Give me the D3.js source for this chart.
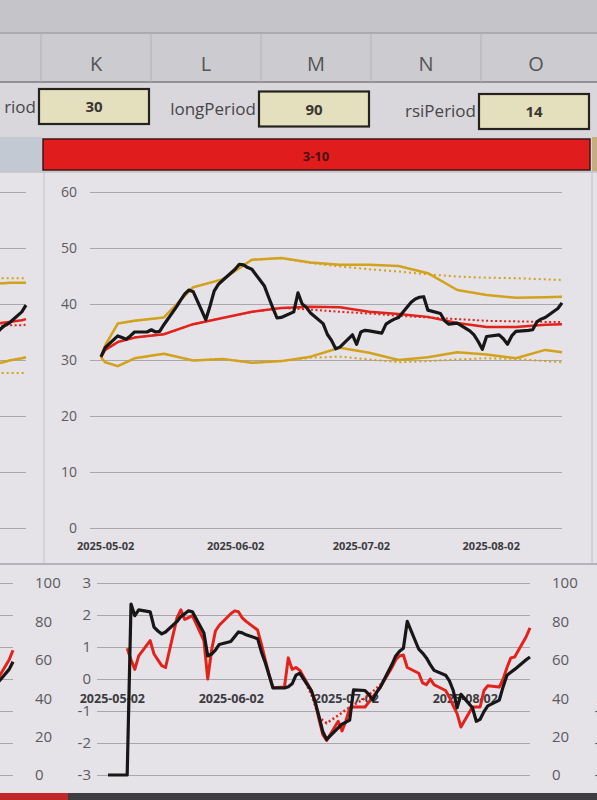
<!DOCTYPE html>
<html>
<head>
<meta charset="utf-8">
<script src="https://cdn.jsdelivr.net/npm/d3@7/dist/d3.min.js"></script>
<style>
  body { margin: 0; background: #d9d7dc; }
  svg { display: block; font-family: "Open Sans", "Liberation Sans", sans-serif; }
</style>
</head>
<body>
<svg id="sheet" width="597" height="800"></svg>
<script>
// sheet header / inputs
const columns = ["K", "L", "M", "N", "O"];
const paramNames = ["riod", "longPeriod", "rsiPeriod"];
const paramValues = [30, 90, 14];
const paramCols = ["K", "M", "O"];
const rangeLabel = "3-10";

// trading days shown in both charts
const dates = [
  "2025-05-01","2025-05-02","2025-05-05","2025-05-06","2025-05-07","2025-05-08","2025-05-09",
  "2025-05-12","2025-05-13","2025-05-14","2025-05-15","2025-05-16",
  "2025-05-19","2025-05-20","2025-05-21","2025-05-22","2025-05-23",
  "2025-05-26","2025-05-27","2025-05-28","2025-05-29","2025-05-30",
  "2025-06-02","2025-06-03","2025-06-04","2025-06-05","2025-06-06",
  "2025-06-09","2025-06-10","2025-06-11","2025-06-12","2025-06-13",
  "2025-06-16","2025-06-17","2025-06-18","2025-06-19","2025-06-20",
  "2025-06-23","2025-06-24","2025-06-25","2025-06-26","2025-06-27",
  "2025-06-30","2025-07-01","2025-07-02","2025-07-03","2025-07-04",
  "2025-07-07","2025-07-08","2025-07-09","2025-07-10","2025-07-11",
  "2025-07-14","2025-07-15","2025-07-16","2025-07-17","2025-07-18",
  "2025-07-21","2025-07-22","2025-07-23","2025-07-24","2025-07-25",
  "2025-07-28","2025-07-29","2025-07-30","2025-07-31","2025-08-01",
  "2025-08-04","2025-08-05","2025-08-06","2025-08-07","2025-08-08",
  "2025-08-11","2025-08-12","2025-08-13","2025-08-14","2025-08-15",
  "2025-08-18","2025-08-19"
];

// top chart: close price
const price = [
  30.6, 32.2, 34.3, 34.0, 33.7, 34.3, 35.0,
  35.0, 35.4, 35.0, 35.1, 36.3,
  39.5, 40.7, 41.8, 42.5, 42.2,
  37.2, 39.6, 42.3, 43.5, 44.2,
  46.2, 47.1, 47.0, 46.5, 46.2,
  43.2, 41.2, 39.3, 37.5, 37.6,
  38.6, 42.0, 40.0, 39.4, 38.4,
  36.5, 34.6, 33.5, 32.0, 32.3,
  34.5, 32.8, 35.0, 35.3, 35.2,
  34.8, 36.4, 36.9, 37.3, 37.6,
  40.3, 40.9, 41.2, 41.3, 38.9,
  38.3, 37.0, 36.4, 36.5, 36.6,
  35.2, 34.5, 33.3, 31.9, 34.2,
  34.5, 33.8, 32.8, 34.3, 35.1,
  35.3, 35.4, 36.8, 37.3, 37.6,
  39.2, 40.2
];

// top chart: averages and bands (read weekly)
const bandDates = [
  "2025-05-01","2025-05-02","2025-05-05","2025-05-09","2025-05-16","2025-05-23","2025-05-30",
  "2025-06-06","2025-06-13","2025-06-20","2025-06-27","2025-07-04","2025-07-11","2025-07-18",
  "2025-07-25","2025-08-01","2025-08-08","2025-08-15","2025-08-19"
];
const maShort    = [30.5, 31.8, 33.2, 34.0, 34.6, 36.4, 37.5, 38.6, 39.3, 39.5, 39.4, 38.6, 38.2, 37.7, 36.6, 35.9, 35.9, 36.3, 36.4];
const maLong     = [30.5, 31.8, 33.2, 34.0, 34.6, 36.4, 37.5, 38.6, 39.3, 39.0, 38.6, 38.3, 37.9, 37.6, 37.3, 37.0, 36.9, 36.8, 36.8];
const upperShort = [30.5, 32.6, 36.5, 37.0, 37.6, 43.0, 44.4, 47.9, 48.2, 47.4, 47.0, 47.0, 46.8, 45.5, 42.5, 41.6, 41.1, 41.2, 41.3];
const upperLong  = [30.5, 32.6, 36.5, 37.0, 37.6, 43.0, 44.4, 47.9, 48.2, 47.3, 46.7, 46.2, 45.8, 45.3, 44.9, 44.7, 44.6, 44.4, 44.3];
const lowerShort = [30.5, 29.6, 28.9, 30.3, 31.1, 29.9, 30.2, 29.5, 29.8, 30.6, 32.2, 31.3, 30.0, 30.5, 31.4, 31.0, 30.3, 31.8, 31.4];
const lowerLong  = [30.5, 29.6, 28.9, 30.3, 31.1, 29.9, 30.2, 29.5, 29.8, 30.4, 30.6, 30.1, 29.6, 29.8, 30.1, 30.3, 30.2, 29.8, 29.6];

// bottom chart: RSI (red) and oscillator (black), right axis 0-100
const rsi = [
  null, null, null, 66, 60, 55, 62,
  70, 63, 60, 57, 56,
  82, 86, 81, 82, 83,
  70, 50, 65, 75, 78,
  84, 85.5, 85, 81.8, 80,
  75.5, 68, 60, 52, 45.5,
  45.8, 61, 55, 56, 54.5,
  44, 38, 29, 21, 18,
  28, 23, 28, 35, 35.4,
  35.4, 38, 40.6, 43, 45.8,
  56, 60, 62, 62.5, 56,
  53, 48, 47, 50, 47,
  44, 40.5, 36, 32, 25,
  35.4, 35.4, 35.4, 44, 46.5,
  45.8, 50, 56, 61, 61.5,
  72, 76.6
];
const osc = [
  0, 0, 0, 0, 89, 83, 86,
  85, 77, 75, 73.5, 74.5,
  80, 82.5, 84, 85.5, 85,
  74, 62, 63, 65, 68,
  69.5, 72, 74.5, 74, 73,
  71, 64, 58.5, 52, 45.3,
  45.3, 46, 47.5, 52, 53,
  44, 38, 30.5, 22.5, 18.5,
  24.5, 26.5, 27.5, 28.6, 44.3,
  44, 42, 39, 43, 45.8,
  57.5, 62, 64.5, 66, 80,
  65.5, 63.5, 61, 57.5, 54.5,
  52, 49, 44, 35, 42,
  35, 28, 29, 33, 36,
  39, 46, 52, 53.5, 55,
  60, 61.5
];
const rsiLongDates = ["2025-06-20","2025-06-23","2025-06-25","2025-06-27","2025-06-30","2025-07-02","2025-07-07","2025-07-11","2025-07-14"];
const rsiLong = [54.5, 42, 30, 27, 31, 34, 40, 47, 56];

// axis ticks
const monthTicks = ["2025-05-02", "2025-06-02", "2025-07-02", "2025-08-02"];
const priceTicks = [0, 10, 20, 30, 40, 50, 60];
const oscTicks = [-3, -2, -1, 0, 1, 2, 3];
const rsiTicks = [0, 20, 40, 60, 80, 100];

// tail ends of the neighbouring charts, cut by the window
const nbDates = ["2025-08-12","2025-08-13","2025-08-14","2025-08-15","2025-08-18","2025-08-19"];
const nbPrice      = [34.8, 35.6, 36.2, 36.6, 38.6, 39.8];
const nbMaShort    = [36.5, 36.6, 36.7, 36.8, 37.1, 37.3];
const nbMaLong     = [36.1, 36.1, 36.2, 36.2, 36.2, 36.3];
const nbUpperShort = [43.6, 43.7, 43.7, 43.8, 43.8, 43.8];
const nbUpperLong  = [44.6, 44.6, 44.6, 44.6, 44.6, 44.6];
const nbLowerShort = [29.3, 29.5, 29.7, 29.9, 30.3, 30.5];
const nbLowerLong  = [27.7, 27.7, 27.7, 27.7, 27.7, 27.7];
const nbRsi        = [42, 45, 48, 50, 60, 65];
const nbOsc        = [41, 44, 46, 48, 55, 59];

const RED = "#e2231c", BLACK = "#171717", GOLD = "#d3a21c";

const svg = d3.select("svg#sheet");
const W = +svg.attr("width"), H = +svg.attr("height");
const parse = d3.timeParse("%Y-%m-%d");
const fmt = d3.timeFormat("%Y-%m-%d");
const pts = (ds, vs) => d3.zip(ds.map(parse), vs);
const span = [parse(dates[0]), parse(dates[dates.length - 1])];

// ---- sheet chrome ----
svg.append("rect").attr("width", W).attr("height", H).attr("fill", "#d9d7dc");
svg.append("rect").attr("width", W).attr("height", 33).attr("fill", "#c5c4c8");
svg.append("rect").attr("y", 33).attr("width", W).attr("height", 49).attr("fill", "#cccbcf");
svg.append("line").attr("x1", 0).attr("x2", W).attr("y1", 33).attr("y2", 33).attr("stroke", "#8f8e93");
svg.append("line").attr("x1", 0).attr("x2", W).attr("y1", 82).attr("y2", 82).attr("stroke", "#7d7c81").attr("stroke-width", 1.5);

const colX = d3.scaleBand().domain(columns).range([41, 591]);
svg.append("g").selectAll("line").data(columns).join("line")
    .attr("x1", d => colX(d)).attr("x2", d => colX(d))
    .attr("y1", 33).attr("y2", 82)
    .attr("stroke", "#b3b2b7");
svg.append("g").selectAll("text").data(columns).join("text")
    .attr("x", d => colX(d) + colX.bandwidth() / 2)
    .attr("y", 71)
    .attr("text-anchor", "middle")
    .attr("font-size", 20)
    .attr("fill", "#555")
    .text(d => d);

// parameter row
const params = svg.append("g");
params.selectAll("rect").data(paramCols).join("rect")
    .attr("x", d => colX(d) - 2)
    .attr("y", (d, i) => 89 + i * 2.5)
    .attr("width", colX.bandwidth())
    .attr("height", 35)
    .attr("fill", "#e4dfbd")
    .attr("stroke", "#262220")
    .attr("stroke-width", 2.2);
params.selectAll("text.val").data(paramValues).join("text")
    .attr("class", "val")
    .attr("x", (d, i) => colX(paramCols[i]) - 2 + colX.bandwidth() / 2)
    .attr("y", (d, i) => 112 + i * 2.5)
    .attr("text-anchor", "middle")
    .attr("font-size", 15)
    .attr("font-weight", "bold")
    .attr("fill", "#3a3632")
    .text(d => d);
params.selectAll("text.lbl").data(paramNames).join("text")
    .attr("class", "lbl")
    .attr("x", (d, i) => colX(paramCols[i]) - 5)
    .attr("y", (d, i) => 113 + i * 2)
    .attr("text-anchor", "end")
    .attr("font-size", 17)
    .attr("fill", "#474649")
    .text(d => d);

// status row
svg.append("rect").attr("x", 0).attr("y", 137).attr("width", 42).attr("height", 34).attr("fill", "#c3c9d2");
svg.append("rect").attr("x", 43).attr("y", 139).attr("width", 547).attr("height", 31)
    .attr("fill", "#e11c1c").attr("stroke", "#3b1616").attr("stroke-width", 1.5);
svg.append("rect").attr("x", 592).attr("y", 137).attr("width", 5).attr("height", 34).attr("fill", "#c7ae80");
svg.append("text").attr("x", 316).attr("y", 161)
    .attr("text-anchor", "middle").attr("font-size", 13).attr("font-weight", "bold")
    .attr("fill", "#4a1010").text(rangeLabel);

// chart backgrounds
svg.append("rect").attr("y", 172).attr("width", W).attr("height", 391).attr("fill", "#e5e2e8");
svg.append("rect").attr("y", 565).attr("width", W).attr("height", 228).attr("fill", "#e5e2e8");
svg.append("line").attr("x1", 0).attr("x2", W).attr("y1", 172).attr("y2", 172).attr("stroke", "#b5b2b9");
svg.append("line").attr("x1", 0).attr("x2", W).attr("y1", 564).attr("y2", 564).attr("stroke", "#b5b2b9").attr("stroke-width", 2);
svg.append("line").attr("x1", 44).attr("x2", 44).attr("y1", 172).attr("y2", 563).attr("stroke", "#c3c0c7");
svg.append("line").attr("x1", 592).attr("x2", 592).attr("y1", 172).attr("y2", 563).attr("stroke", "#c3c0c7");
svg.append("rect").attr("y", 793).attr("width", W).attr("height", 7).attr("fill", "#3f3d42");
svg.append("rect").attr("y", 793).attr("width", 68).attr("height", 7).attr("fill", "#c0262a");

const drawLine = (g, x, y, data, color, width, dash) =>
    g.append("path").datum(data)
        .attr("fill", "none")
        .attr("stroke", color)
        .attr("stroke-width", width)
        .attr("stroke-dasharray", dash || null)
        .attr("stroke-linejoin", "round")
        .attr("d", d3.line().defined(d => d[1] != null).x(d => x(d[0])).y(d => y(d[1])));

const styleText = (sel, size, weight, color) => sel
    .attr("font-size", size)
    .attr("font-weight", weight)
    .attr("fill", color)
    .attr("font-family", "'Open Sans', 'Liberation Sans', sans-serif");

// ---- price panel (bands) ----
const pricePanel = (shift) => {
    const g = svg.append("g");
    const x = d3.scaleTime().domain(span).range([101 + shift, 562 + shift]);
    const y = d3.scaleLinear().domain([0, 60]).range([528, 192]);

    g.append("g").attr("transform", `translate(${90 + shift},0)`)
        .call(d3.axisLeft(y).tickValues(priceTicks).tickSize(-472).tickFormat(""))
        .call(a => a.select(".domain").remove())
        .selectAll("line").attr("stroke", "#a9a6ae");

    g.append("g").attr("transform", `translate(${77 + shift},0)`)
        .call(d3.axisLeft(y).tickValues(priceTicks).tickSize(0).tickPadding(0))
        .call(a => a.select(".domain").remove())
        .selectAll("text").call(styleText, 14, "normal", "#5b5a5e");

    g.append("g").attr("transform", "translate(0,542)")
        .call(d3.axisBottom(x).tickValues(monthTicks.map(parse)).tickFormat(fmt).tickSize(0).tickPadding(0))
        .call(a => a.select(".domain").remove())
        .selectAll("text").call(styleText, 11, "bold", "#3c3b40");

    return { g, x, y };
};

// ---- oscillator panel ----
const oscPanel = (shift) => {
    const g = svg.append("g");
    const x = d3.scaleTime().domain(span).range([108 + shift, 530 + shift]);
    const yL = d3.scaleLinear().domain([-3, 3]).range([775, 583]);
    const yR = d3.scaleLinear().domain([0, 100]).range([775, 583]);

    g.append("g").attr("transform", `translate(${97 + shift},0)`)
        .call(d3.axisLeft(yL).tickValues(oscTicks).tickSize(-433).tickFormat(""))
        .call(a => a.select(".domain").remove())
        .selectAll("line").attr("stroke", "#a9a6ae");

    g.append("g").attr("transform", `translate(${91 + shift},0)`)
        .call(d3.axisLeft(yL).tickValues(oscTicks).tickFormat(d => String(d)).tickSize(0).tickPadding(0))
        .call(a => a.select(".domain").remove())
        .selectAll("text").call(styleText, 15, "normal", "#5b5a5e");

    g.append("g").attr("transform", `translate(${552 + shift},0)`)
        .call(d3.axisRight(yR).tickValues(rsiTicks).tickFormat(d => String(d)).tickSize(0).tickPadding(0))
        .call(a => a.select(".domain").remove())
        .selectAll("text").call(styleText, 15, "normal", "#5b5a5e");

    g.append("g").attr("transform", "translate(0,694)")
        .call(d3.axisBottom(x).tickValues(monthTicks.map(parse)).tickFormat(fmt).tickSize(0).tickPadding(0))
        .call(a => a.select(".domain").remove())
        .selectAll("text").call(styleText, 12.5, "bold", "#3c3b40");

    return { g, x, yL, yR };
};

// main price chart
const priceMain = pricePanel(0);
drawLine(priceMain.g, priceMain.x, priceMain.y, pts(bandDates, upperLong), GOLD, 2, "2,3");
drawLine(priceMain.g, priceMain.x, priceMain.y, pts(bandDates, lowerLong), GOLD, 2, "2,3");
drawLine(priceMain.g, priceMain.x, priceMain.y, pts(bandDates, upperShort), GOLD, 2.5);
drawLine(priceMain.g, priceMain.x, priceMain.y, pts(bandDates, lowerShort), GOLD, 2.5);
drawLine(priceMain.g, priceMain.x, priceMain.y, pts(bandDates, maLong), RED, 2, "2,2.5");
drawLine(priceMain.g, priceMain.x, priceMain.y, pts(bandDates, maShort), RED, 2.5);
drawLine(priceMain.g, priceMain.x, priceMain.y, pts(dates, price), BLACK, 3.2);

// neighbour price chart on the left, only its tail shows
const priceLeft = pricePanel(-536);
drawLine(priceLeft.g, priceLeft.x, priceLeft.y, pts(nbDates, nbUpperLong), GOLD, 2, "2,3");
drawLine(priceLeft.g, priceLeft.x, priceLeft.y, pts(nbDates, nbLowerLong), GOLD, 2, "2,3");
drawLine(priceLeft.g, priceLeft.x, priceLeft.y, pts(nbDates, nbUpperShort), GOLD, 2.5);
drawLine(priceLeft.g, priceLeft.x, priceLeft.y, pts(nbDates, nbLowerShort), GOLD, 2.5);
drawLine(priceLeft.g, priceLeft.x, priceLeft.y, pts(nbDates, nbMaLong), RED, 2, "2,2.5");
drawLine(priceLeft.g, priceLeft.x, priceLeft.y, pts(nbDates, nbMaShort), RED, 2.5);
drawLine(priceLeft.g, priceLeft.x, priceLeft.y, pts(nbDates, nbPrice), BLACK, 3.2);

// main oscillator chart
const oscMain = oscPanel(0);
drawLine(oscMain.g, oscMain.x, oscMain.yR, pts(rsiLongDates, rsiLong), RED, 2.5, "2,2.5");
drawLine(oscMain.g, oscMain.x, oscMain.yR, pts(dates, rsi), RED, 3);
drawLine(oscMain.g, oscMain.x, oscMain.yR, pts(dates, osc), BLACK, 3.2);

// neighbours of the oscillator chart
const oscLeft = oscPanel(-517);
drawLine(oscLeft.g, oscLeft.x, oscLeft.yR, pts(nbDates, nbRsi), RED, 3);
drawLine(oscLeft.g, oscLeft.x, oscLeft.yR, pts(nbDates, nbOsc), BLACK, 3.2);
oscPanel(517);

// neighbour labels that fall wholly outside the window are not drawn
svg.selectAll("text").filter(function () {
    const r = this.getBoundingClientRect();
    return r.right <= 0 || r.left >= W;
}).remove();
</script>
</body>
</html>
